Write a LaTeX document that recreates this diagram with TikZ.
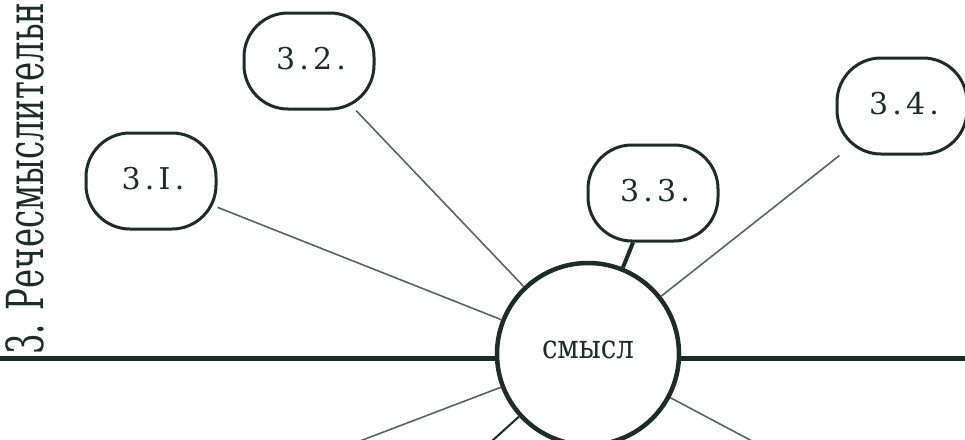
\documentclass[tikz,border=0pt]{standalone}
\usepackage{fontspec}
\usepackage{graphicx}
\newfontfamily\tw{DejaVu Serif}
\newfontfamily\twls[LetterSpace=14]{DejaVu Serif}
\definecolor{ink}{RGB}{28,44,38}
\definecolor{faint}{RGB}{90,100,95}
\tikzset{
  x=1pt, y=-1pt,
  lab/.style={draw=ink, line width=3pt, rounded corners=44pt, minimum width=130pt, minimum height=96pt, inner sep=0pt, font=\twls\fontsize{30}{30}\selectfont, text=ink},
  hub/.style={draw=ink, line width=4.5pt, circle, minimum size=182pt, inner sep=0pt, font=\tw\fontsize{33}{33}\selectfont, text=ink},
  thinlink/.style={draw=faint, line width=1.6pt},
  midlink/.style={draw=ink, line width=2pt},
  thicklink/.style={draw=ink, line width=4pt},
  axis/.style={draw=ink, line width=5pt}
}
\begin{document}
\begin{tikzpicture}
\useasboundingbox (0,0) rectangle (965,439);
\fill[white] (0,0) rectangle (965,439);
% vertical title
\node[anchor=base west, rotate=90, inner sep=0pt, text=ink, font=\tw\fontsize{51}{51}\selectfont] (title) at (43,355) {\resizebox{352pt}{\height}{3. Речесмыслительн}};
% hub
\node[hub] (c) at (588,354) {\raisebox{8pt}{\resizebox{92pt}{\height}{смысл}}};
% labels
\node[lab] (b1) at (151,181) {\raisebox{6pt}{\hspace*{4pt}3.I.}};
\node[lab] (b2) at (309,61) {\raisebox{6pt}{\hspace*{4pt}3.2.}};
\node[lab] (b3) at (653,193) {\raisebox{6pt}{\hspace*{4pt}3.3.}};
\node[lab] (b4) at (902,106) {\raisebox{6pt}{\hspace*{4pt}3.4.}};
% horizontal axis
\coordinate (hl) at (0,358);
\coordinate (hr) at (965,358);
\draw[axis] (hl) -- (hl -| c.west);
\draw[axis] (hr) -- (hr -| c.east);
% connectors
\draw[thinlink] (b1) -- (c);
\draw[thinlink] (b2) -- (c);
\draw[thicklink] (b3) -- (c);
\draw[thinlink] (b4) -- (c);
% lower free lines
\coordinate (d1) at (360,441);
\coordinate (d2) at (492,441);
\coordinate (d3) at (752,441);
\draw[thinlink] (c) -- (d1);
\draw[midlink] (c) -- (d2);
\draw[thinlink] (c) -- (d3);
\end{tikzpicture}
\end{document}
